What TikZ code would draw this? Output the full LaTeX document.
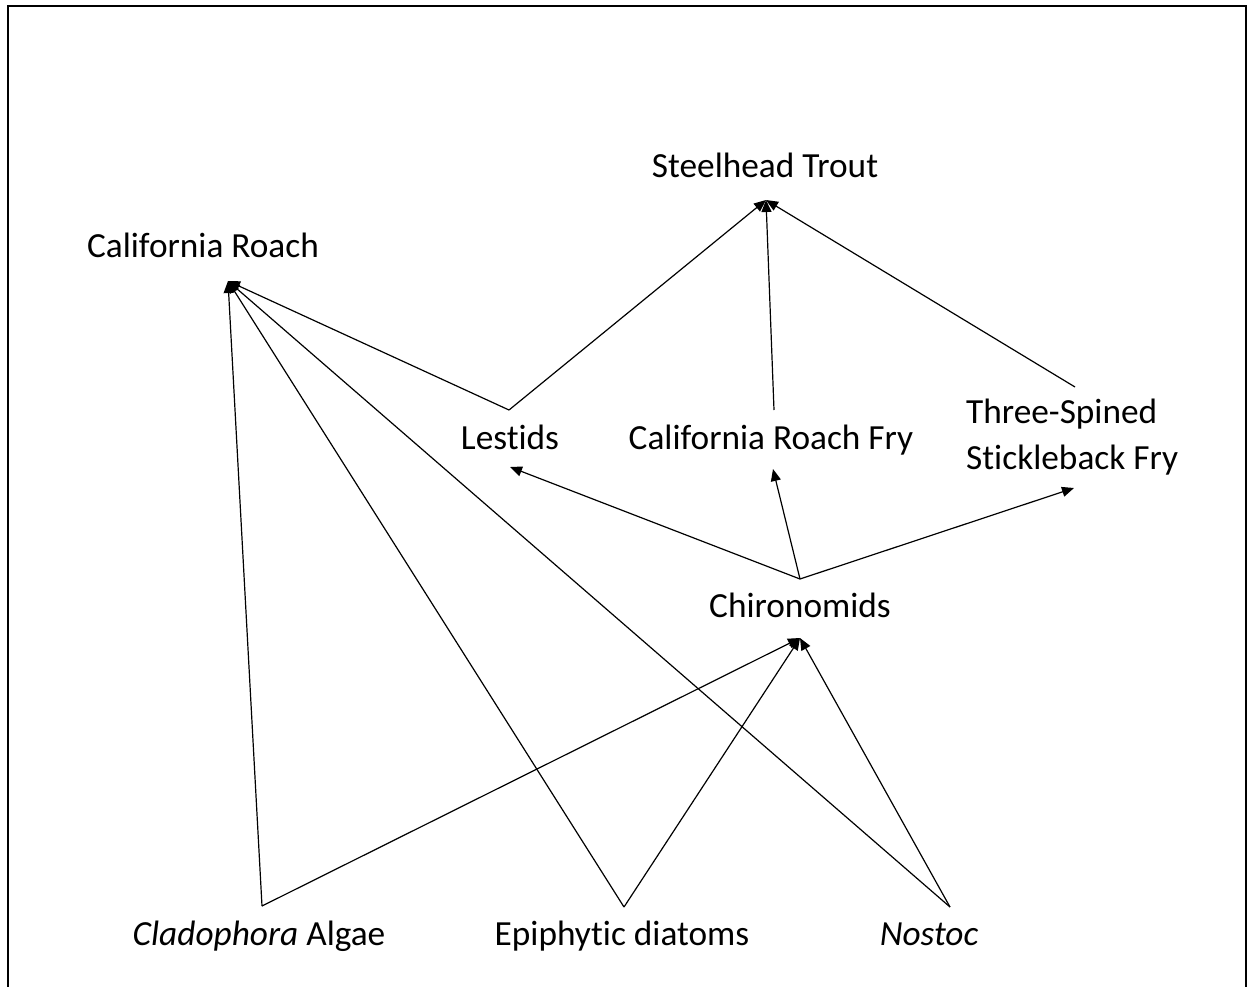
\documentclass[tikz,border=0pt]{standalone}
\usepackage{fontspec}
\setmainfont[Ligatures=NoCommon]{Carlito}
\usetikzlibrary{arrows.meta}
\begin{document}
\begin{tikzpicture}[x=1pt,y=-1pt,
  lbl/.style={anchor=base,inner sep=0pt,font=\fontsize{35.3}{46}\selectfont},
  edge/.style={draw=black,line width=1.2pt},
  arr/.style={edge,-{Triangle[length=12pt,width=10pt]}}]
\useasboundingbox (0,0) rectangle (1248,986);
\begin{scope}
\clip (0,0) rectangle (1248,986);
\draw[line width=2pt] (8,1000) -- (8,6) -- (1246,6) -- (1246,1000);
\end{scope}
% labels
\node[lbl] (trout) at (765,177) {Steelhead Trout};
\node[lbl] (roach) at (203,257) {California Roach};
\node[lbl] (lestids) at (510,449) {Lestids};
\node[lbl] (fry) at (771,449) {California Roach Fry};
\node[lbl,align=left,anchor=north west] (stick) at (966,399) {Three-Spined\\Stickleback Fry};
\node[lbl] (chiro) at (800,617) {Chironomids};
\node[lbl] (clado) at (259,945) {\textit{Cladophora} Algae};
\node[lbl] (epi) at (622,945) {Epiphytic diatoms};
\node[lbl] (nostoc) at (929,945) {\textit{Nostoc}};
% attachment points
\coordinate (troutIn) at (766,200);
\coordinate (roachIn) at (228,281);
\coordinate (lestTop) at (509,410);
\coordinate (lestIn) at (510,467);
\coordinate (fryTop) at (774,410);
\coordinate (fryIn) at (773,469);
\coordinate (stickTop) at (1075,387);
\coordinate (stickIn) at (1074,488);
\coordinate (chiroTop) at (800,579);
\coordinate (chiroIn) at (800,638);
\coordinate (cladoTop) at (262,906);
\coordinate (epiTop) at (624,907);
\coordinate (nostocTop) at (950,907);
% edges
\draw[arr] (lestTop) -- (troutIn);
\draw[arr] (fryTop) -- (troutIn);
\draw[arr] (stickTop) -- (troutIn);
\draw[arr] (lestTop) -- (roachIn);
\draw[arr] (cladoTop) -- (roachIn);
\draw[arr] (epiTop) -- (roachIn);
\draw[arr] (nostocTop) -- (roachIn);
\draw[arr] (chiroTop) -- (lestIn);
\draw[arr] (chiroTop) -- (fryIn);
\draw[arr] (chiroTop) -- (stickIn);
\draw[arr] (cladoTop) -- (chiroIn);
\draw[arr] (epiTop) -- (chiroIn);
\draw[arr] (nostocTop) -- (chiroIn);
\end{tikzpicture}
\end{document}
